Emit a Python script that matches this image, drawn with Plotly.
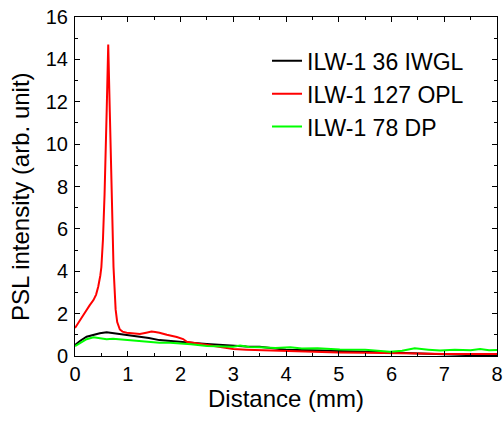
import plotly.graph_objects as go

# ILW-1 127 OPL (red)
red_x = [0, 0.05, 0.1, 0.15, 0.22, 0.28, 0.35, 0.4, 0.44, 0.48, 0.5, 0.53, 0.56, 0.6, 0.63,
         0.66, 0.7, 0.73, 0.77, 0.8, 0.85, 0.9, 0.98, 1.1, 1.23, 1.35, 1.45, 1.52, 1.6,
         1.74, 1.85, 1.93, 2.05, 2.12, 2.3, 2.5, 2.75, 3.0, 3.25, 3.5, 4.0, 4.5, 5.0,
         5.5, 6.0, 6.5, 7.0, 7.5, 8.0]
red_y = [1.32, 1.5, 1.7, 1.9, 2.17, 2.4, 2.64, 2.9, 3.27, 3.8, 4.2, 5.5, 7.6, 11.5, 14.7,
         11.5, 7.4, 4.2, 2.2, 1.6, 1.25, 1.15, 1.1, 1.08, 1.04, 1.1, 1.15, 1.13, 1.1,
         1.0, 0.95, 0.9, 0.8, 0.67, 0.6, 0.52, 0.42, 0.33, 0.3, 0.28, 0.22, 0.2, 0.17,
         0.15, 0.12, 0.12, 0.1, 0.1, 0.09]

# ILW-1 36 IWGL (black)
black_x = [0, 0.1, 0.22, 0.35, 0.47, 0.6, 0.72, 0.85, 1.0, 1.23, 1.4, 1.6, 1.8, 1.98,
           2.2, 2.5, 2.75, 3.0, 3.25, 3.5, 4.0, 4.5, 5.0, 5.5, 6.0, 6.5, 7.0, 7.5, 8.0]
black_y = [0.52, 0.72, 0.91, 1.0, 1.07, 1.12, 1.08, 1.04, 1.0, 0.91, 0.85, 0.75, 0.7, 0.67,
           0.62, 0.57, 0.52, 0.47, 0.45, 0.44, 0.3, 0.27, 0.25, 0.2, 0.16, 0.12, 0.06,
           0.04, 0.03]

# ILW-1 78 DP (green)
green_x = [0, 0.1, 0.22, 0.35, 0.47, 0.6, 0.72, 0.85, 1.0, 1.23, 1.4, 1.6, 1.8, 1.98,
           2.2, 2.5, 2.75, 3.0, 3.13, 3.3, 3.5, 3.8, 4.08, 4.3, 4.6, 5.02, 5.5, 5.97,
           6.2, 6.44, 6.7, 6.92, 7.2, 7.5, 7.68, 7.85, 8.0]
green_y = [0.47, 0.62, 0.79, 0.88, 0.84, 0.79, 0.82, 0.79, 0.77, 0.72, 0.68, 0.63, 0.62, 0.6,
           0.55, 0.47, 0.45, 0.44, 0.49, 0.42, 0.41, 0.38, 0.41, 0.35, 0.37, 0.31, 0.3,
           0.2, 0.25, 0.36, 0.3, 0.26, 0.3, 0.27, 0.33, 0.27, 0.28]

x_ticks = [0, 1, 2, 3, 4, 5, 6, 7, 8]
y_ticks = [0, 2, 4, 6, 8, 10, 12, 14, 16]

font = "Liberation Sans, Arial, sans-serif"

fig = go.Figure()
fig.add_trace(go.Scatter(x=black_x, y=black_y, mode="lines", name="ILW-1 36 IWGL",
                         line=dict(color="black", width=2)))
fig.add_trace(go.Scatter(x=red_x, y=red_y, mode="lines", name="ILW-1 127 OPL",
                         line=dict(color="#ff0000", width=2)))
fig.add_trace(go.Scatter(x=green_x, y=green_y, mode="lines", name="ILW-1 78 DP",
                         line=dict(color="#00ff00", width=2)))

axis_common = dict(showgrid=False, zeroline=False, showline=True, linecolor="black",
                   linewidth=1, mirror="ticks", ticks="inside", ticklen=5,
                   tickcolor="black", tickfont=dict(size=20, color="black", family=font),
                   title_font=dict(size=24, color="black", family=font),
                   automargin=False, ticklabeloverflow="allow")

fig.update_xaxes(range=[0, 8], tickvals=x_ticks, title_text="Distance (mm)",
                 minor=dict(ticks="inside", ticklen=3, dtick=0.5, tickcolor="black"),
                 title_standoff=4, ticklabelstandoff=0, **axis_common)
fig.update_yaxes(range=[0, 16], tickvals=y_ticks,
                 minor=dict(ticks="inside", ticklen=3, dtick=1, tickcolor="black"),
                 ticklabelstandoff=2, **axis_common)

# y title as an annotation, sits a bit below the middle of the axis
fig.add_annotation(text="PSL intensity (arb. unit)", textangle=-90,
                   xref="paper", yref="paper", x=-0.128, y=0.472,
                   xanchor="center", yanchor="middle", showarrow=False,
                   font=dict(size=24, color="black", family=font))

fig.update_layout(
    width=503, height=423,
    margin=dict(l=75, r=6, t=17, b=67),
    plot_bgcolor="white", paper_bgcolor="white",
    font=dict(family=font, color="black"),
    legend=dict(x=0.455, y=0.934, xanchor="left", yanchor="top",
                bgcolor="rgba(0,0,0,0)", font=dict(size=23, color="black", family=font),
                tracegroupgap=0, itemwidth=30),
)

# drop the default 8px page margin so the figure fills the window
fig.write_html("out.html", config={"displayModeBar": False},
               post_script="document.body.style.margin = '0px';")
